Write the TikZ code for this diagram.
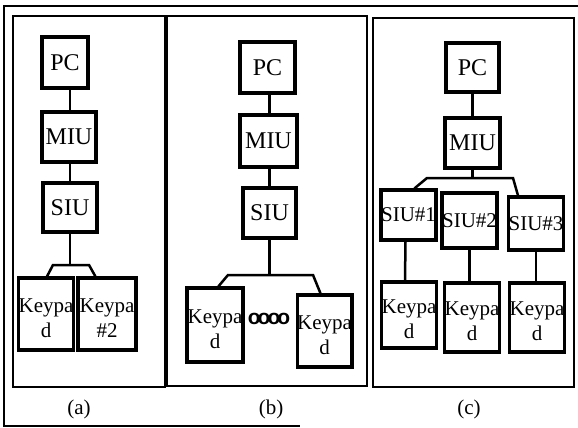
\documentclass[tikz,border=0pt]{standalone}
\usepackage{fontspec}
\setmainfont{Liberation Serif}
\setsansfont{Liberation Sans}
\begin{document}
\begin{tikzpicture}[x=1pt,y=-1pt,
  box/.style={draw, line width=3.2pt, inner sep=0pt, font=\fontsize{24}{26}\selectfont},
  sbox/.style={box, font=\fontsize{21}{24}\selectfont},
  kp/.style={draw, line width=3.2pt, inner sep=0pt, align=center, font=\fontsize{21}{25}\selectfont},
  panel/.style={line width=2.8pt},
  frame/.style={line width=2.2pt},
  link/.style={line width=2.5pt},
  lab/.style={font=\fontsize{21}{22}\selectfont}]
\useasboundingbox (0,0) rectangle (578,428);
% outer frame
\draw[frame] (578,6) -- (4,6) -- (4,426) -- (300,426);
% panels
\draw[panel] (13,16) rectangle (165,387);
\draw[panel] (167,16) rectangle (367,386);
\draw[panel] (373,18) rectangle (574,387);
% panel (a)
\node[box, minimum width=46, minimum height=51] (aPC) at (65,62.5) {PC};
\node[box, minimum width=54, minimum height=50] (aMIU) at (69,137) {MIU};
\node[box, minimum width=54, minimum height=49] (aSIU) at (70,207.5) {SIU};
\node[kp, minimum width=54, minimum height=72] (aK1) at (46,314) {\rule{0pt}{22pt}Keypa\\d};
\node[kp, minimum width=58, minimum height=72] (aK2) at (107,314) {\rule{0pt}{22pt}Keypa\\\#2};
\draw[link] (aPC.south -| aSIU) -- (aMIU.north -| aSIU);
\draw[link] (aMIU.south -| aSIU) -- (aSIU.north);
\coordinate (aL) at (53,265);
\coordinate (aR) at (89,265);
\draw[link] ([xshift=1pt]aK1.north) -- (aL) -- (aR) -- ([xshift=19pt]aK2.north west);
\draw[link] (aSIU.south) -- (aSIU.south |- aL);
\node[lab] (la) at (79,409) {(a)};
% panel (b)
\node[box, minimum width=55, minimum height=51] (bPC) at (267.5,67.5) {PC};
\node[box, minimum width=57, minimum height=52] (bMIU) at (268.5,141) {MIU};
\node[box, minimum width=53, minimum height=50] (bSIU) at (269.5,213) {SIU};
\node[kp, minimum width=56, minimum height=74] (bK1) at (215,325) {\rule{0pt}{22pt}Keypa\\d};
\node[kp, minimum width=53, minimum height=72] (bK2) at (324.5,331) {\rule{0pt}{22pt}Keypa\\d};
\node[font=\sffamily\bfseries\fontsize{21}{21}\selectfont, inner sep=0pt] (dots) at (269,319) {o\kern-3pt o\kern-3pt o\kern-3pt o};
\draw[link] (bPC.south -| bSIU) -- (bMIU.north -| bSIU);
\draw[link] (bMIU.south -| bSIU) -- (bSIU.north);
\coordinate (bL) at (228,275);
\coordinate (bR) at (313,275);
\draw[link] ([xshift=33pt]bK1.north west) -- (bL) -- (bR) -- ([xshift=25pt]bK2.north west);
\draw[link] (bSIU.south) -- (bSIU.south |- bL);
\node[lab] (lb) at (271,409) {(b)};
% panel (c)
\node[box, minimum width=53, minimum height=49] (cPC) at (472.5,67.5) {PC};
\node[box, minimum width=55, minimum height=50] (cMIU) at (472.5,143) {MIU};
\node[sbox, minimum width=53, minimum height=50] (cS1) at (408.5,215) {SIU\#1};
\node[sbox, minimum width=53, minimum height=55] (cS2) at (469.5,220.5) {SIU\#2};
\node[sbox, minimum width=54, minimum height=53] (cS3) at (536,223.5) {SIU\#3};
\node[kp, minimum width=52, minimum height=66] (cK1) at (409,315) {\rule{0pt}{22pt}Keypa\\d};
\node[kp, minimum width=50, minimum height=69] (cK2) at (472,317.5) {\rule{0pt}{22pt}Keypa\\d};
\node[kp, minimum width=54, minimum height=69] (cK3) at (537,317.5) {\rule{0pt}{22pt}Keypa\\d};
\draw[link] (cPC.south) -- (cMIU.north);
\coordinate (cL) at (427,178);
\coordinate (cR) at (513,178);
\draw[link] ([xshift=35pt]cS1.north west) -- (cL) -- (cR) -- ([xshift=11pt]cS3.north west);
\draw[link] (cMIU.south) -- (cMIU.south |- cL);
\draw[link] ([xshift=-3pt]cS1.south) -- ([xshift=-4pt]cK1.north);
\draw[link] (cS2.south) -- (cK2.north -| cS2.south);
\draw[link] (cS3.south) -- (cK3.north -| cS3.south);
\node[lab] (lc) at (469,409) {(c)};
\end{tikzpicture}
\end{document}
